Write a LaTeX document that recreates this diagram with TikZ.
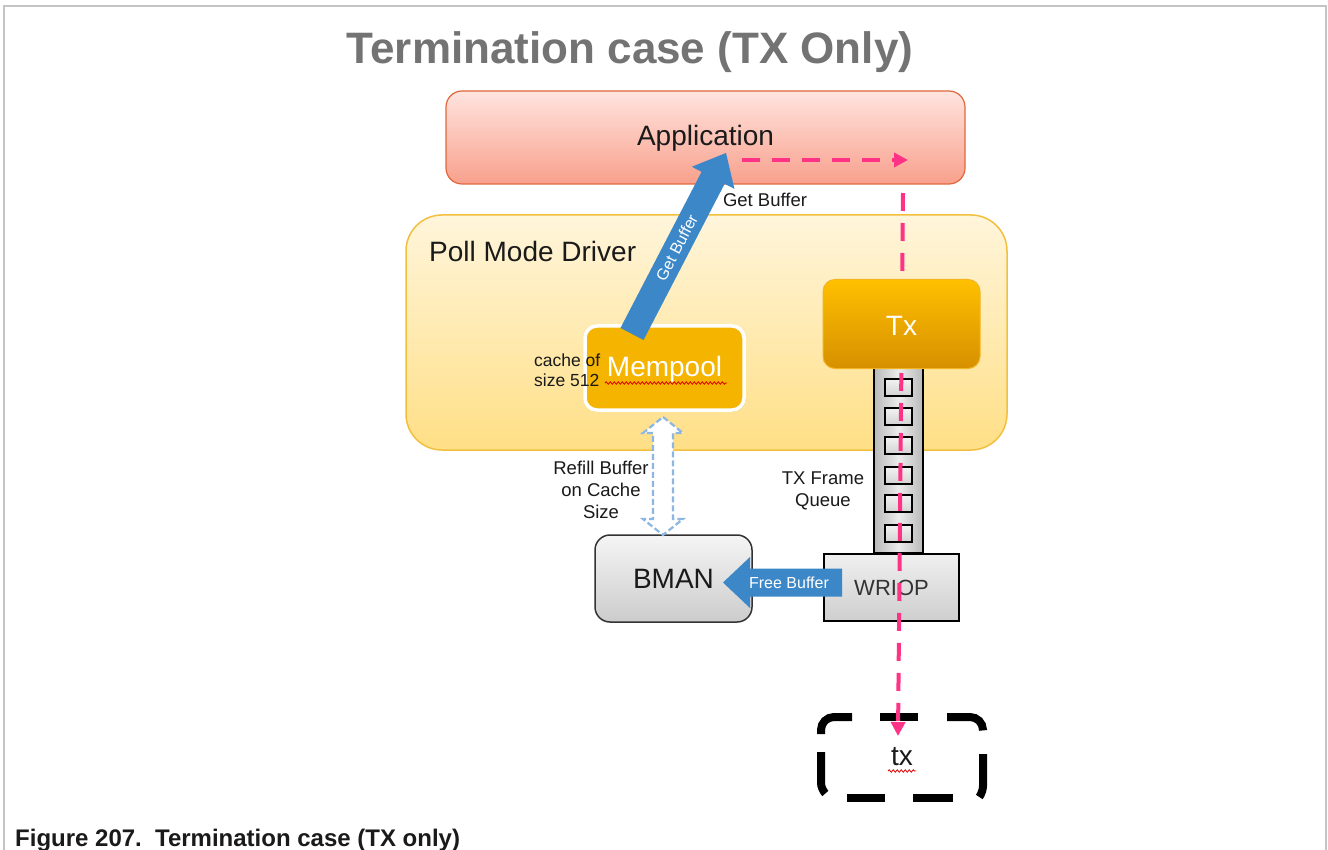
\documentclass[tikz,border=0pt]{standalone}
\usepackage{fontspec}
\setmainfont{Liberation Sans}
\usetikzlibrary{arrows.meta,decorations.pathmorphing,shadows}
\definecolor{pinkline}{HTML}{FF3385}
\definecolor{blueA}{HTML}{3B87C8}
\definecolor{refillc}{HTML}{8DB6E2}
\definecolor{framec}{HTML}{C4C4C4}
\definecolor{titlec}{HTML}{737373}
\definecolor{appTop}{HTML}{FFE4DF}
\definecolor{appBot}{HTML}{F8A08C}
\definecolor{appBorder}{HTML}{E0683C}
\definecolor{pmdTop}{HTML}{FFF5DB}
\definecolor{pmdBot}{HTML}{FFDF86}
\definecolor{pmdBorder}{HTML}{F2C03E}
\definecolor{mempc}{HTML}{F4B400}
\definecolor{txTop}{HTML}{FFC000}
\definecolor{txBot}{HTML}{D69000}
\definecolor{txBorder}{HTML}{F2B520}
\definecolor{textc}{HTML}{1A1A1A}
\begin{document}
\begin{tikzpicture}[x=1pt,y=-1pt,
  fs/.style={font=\fontsize{#1}{#1}\selectfont},
  appbox/.style={top color=appTop, bottom color=appBot, draw=appBorder, line width=1.2pt,
    rounded corners=16pt, minimum width=519pt, minimum height=93pt, inner sep=0pt, text=textc},
  pmdbox/.style={top color=pmdTop, bottom color=pmdBot, draw=pmdBorder, line width=1.5pt,
    rounded corners=36pt, minimum width=601pt, minimum height=235pt, inner sep=0pt},
  mempbox/.style={fill=mempc, draw=white, line width=3.5pt, rounded corners=12pt,
    minimum width=159pt, minimum height=84pt, inner sep=0pt, text=white,
    drop shadow={opacity=0.25, shadow xshift=1.5pt, shadow yshift=-1.5pt}},
  txbox/.style={top color=txTop, bottom color=txBot, draw=txBorder, line width=1pt,
    rounded corners=12pt, minimum width=157pt, minimum height=89pt, inner sep=0pt, text=white},
  queuebox/.style={left color=gray!55, right color=gray!55, middle color=gray!15, draw=black,
    line width=1.3pt, minimum width=49pt, minimum height=185pt, inner sep=0pt},
  slot/.style={top color=gray!10, bottom color=gray!35, draw=black, line width=1.3pt,
    minimum width=27pt, minimum height=17pt, inner sep=0pt},
  wriopbox/.style={top color=gray!12, bottom color=gray!38, draw=black, line width=1.3pt,
    minimum width=135pt, minimum height=67pt, inner sep=0pt, text=black!80},
  bmanbox/.style={top color=gray!8, bottom color=gray!40, draw=black!80, line width=1.5pt,
    rounded corners=15pt, minimum width=157pt, minimum height=87pt, inner sep=0pt, text=textc},
  txdash/.style={draw=black, line width=8pt, rounded corners=13pt},
  lbl/.style={text=textc, inner sep=0pt, align=center},
  pinkdash/.style={draw=pinkline, line width=4pt, dash pattern=on 18pt off 12pt,
    -{Triangle[length=14pt,width=14pt]}},
  squig/.style={draw=red!85!black, line width=0.8pt, decorate,
    decoration={snake, amplitude=1.2pt, segment length=4pt}},
  blockarrow/.style={fill=blueA},
  refill/.style={draw=refillc, fill=white, line width=2.2pt, dash pattern=on 6pt off 3pt}
]
\useasboundingbox (0,0) rectangle (1328,850);
\fill[white] (0,0) rectangle (1328,850);
% frame
\draw[framec, line width=2pt] (4,853) -- (4,6) -- (1326,6) -- (1326,853);
% title
\node[font=\fontsize{44}{50}\selectfont\bfseries, text=titlec, anchor=base, inner sep=0pt] (title) at (630,64) {Termination case (TX Only)};
% caption
\node[font=\fontsize{24}{28}\selectfont\bfseries, text=textc, anchor=base west, inner sep=0pt] (caption) at (15,846) {Figure 207.\hspace{0.55em}Termination case (TX only)};

% boxes
\node[appbox] (app) at (705.5,137.5) {};
\node[lbl, fs=28] (applbl) at (705.5,138) {Application};
\node[pmdbox] (pmd) at (706.5,332.5) {};
\node[lbl, fs=28, anchor=west] (pmdlabel) at (429,251) {Poll Mode Driver};
\node[mempbox] (mem) at (664.5,368) {};
\node[lbl, fs=28, text=white] (memlbl) at (664.5,369) {Mempool};
\draw[squig] (605,383) -- (727,383);
\node[lbl, font=\fontsize{17.5}{20}\selectfont, align=left, anchor=west] (cache) at (534,370) {cache of\\size 512};

\node[queuebox] (queue) at (898.5,460.5) {};
\foreach \i/\yy in {1/387.5, 2/416.5, 3/445.5, 4/475.5, 5/503.5, 6/533.5}
  \node[slot] (q\i) at (898.5,\yy) {};
\node[wriopbox, fs=22] (wriop) at (891.5,587.5) {WRIOP};
\node[bmanbox, fs=28] (bman) at (673.5,578.5) {BMAN};

% dashed "tx" outline, drawn dash by dash
\node[minimum width=164pt, minimum height=81pt, inner sep=0pt] (txo) at (902,757) {};
\draw[txdash] (821,734) -- (821,717) -- (852,717);
\draw[txdash] (880,717) -- (918,717);
\draw[txdash] (947,717) -- (983,717) -- (983,729);
\draw[txdash, rounded corners=6pt] (983,754) -- (983,792) -- (980,796);
\draw[txdash] (847,798) -- (885,798);
\draw[txdash] (913,798) -- (953,798);
\draw[txdash, rounded corners=6pt] (821,752) -- (821,789) -- (824,792);
\node[lbl, fs=28] (txlbl) at (902,757) {tx};
\draw[squig] (888,771) -- (916,771);

% pink data path
\coordinate (pa1) at (742,160);
\coordinate (pa2) at (908,160);
\draw[pinkdash] (pa1) -- (pa2);
\coordinate (pv1) at (903,193);
\coordinate (pv2) at (898,736);
\draw[pinkdash] (pv1) -- (pv2);

\node[txbox] (tx) at (901.5,324) {};
\node[lbl, fs=28, text=white] (txname) at (901.5,326) {Tx};

% labels
\node[lbl, fs=18.5] (getlbl) at (765,200) {Get Buffer};
\node[lbl, font=\fontsize{18.5}{22}\selectfont] (refilllbl) at (601,490) {Refill Buffer\\on Cache\\Size};
\node[lbl, font=\fontsize{18.5}{22}\selectfont] (queuelbl) at (823,491) {TX Frame\\Queue};

% refill double arrow (BMAN <-> Mempool)
\draw[refill] (663,417) -- (683,433) -- (673,433) -- (673,519) -- (683,519) -- (663,535)
  -- (643,519) -- (653,519) -- (653,433) -- (643,433) -- cycle;

% Get Buffer block arrow (Mempool -> Application)
\begin{scope}[shift={(632,334)}, rotate=62.56]
  \fill[blockarrow] (0pt,-13pt) -- (176pt,-13pt) -- (176pt,-24pt) -- (204pt,0pt)
    -- (176pt,24pt) -- (176pt,13pt) -- (0pt,13pt) -- cycle;
  \node[text=white, fs=16, rotate=62.56, inner sep=0pt] (getarrowlbl) at (97pt,0pt) {Get Buffer};
\end{scope}

% Free Buffer block arrow (WRIOP -> BMAN)
\fill[blockarrow] (842,568.5) -- (750,568.5) -- (750,557) -- (723,582.5) -- (750,608)
  -- (750,596.5) -- (842,596.5) -- cycle;
\node[text=white, fs=16, inner sep=0pt] (freelbl) at (789,583) {Free Buffer};
\end{tikzpicture}
\end{document}
